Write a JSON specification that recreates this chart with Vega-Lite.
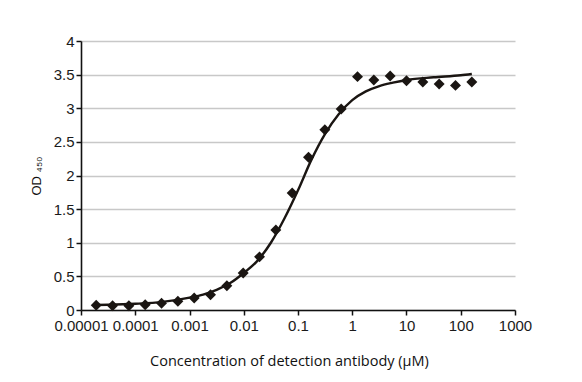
{
  "$schema": "https://vega.github.io/schema/vega-lite/v6.json",
  "autosize": "none",
  "width": 434,
  "height": 269,
  "padding": {"left": 81, "top": 41, "right": 67, "bottom": 72},
  "background": "white",
  "config": {
    "view": {"stroke": null},
    "axis": {
      "labelFont": "Liberation Sans",
      "labelFontSize": 15,
      "labelColor": "#1a1a1a",
      "labelOverlap": false,
      "labelFlush": false,
      "titleFont": "Open Sans",
      "titleFontWeight": "normal",
      "titleFontSize": 14,
      "titleColor": "#111111",
      "domainColor": "#111111",
      "domainWidth": 1.6,
      "tickColor": "#111111",
      "tickWidth": 1.5,
      "tickSize": 5,
      "labelPadding": 2
    }
  },
  "datasets": {
    "points": [
      {"conc": 0.000019073486328125, "od": 0.07},
      {"conc": 0.00003814697265625, "od": 0.063},
      {"conc": 0.0000762939453125, "od": 0.063},
      {"conc": 0.000152587890625, "od": 0.079},
      {"conc": 0.00030517578125, "od": 0.1},
      {"conc": 0.0006103515625, "od": 0.13},
      {"conc": 0.001220703125, "od": 0.178},
      {"conc": 0.00244140625, "od": 0.227},
      {"conc": 0.0048828125, "od": 0.36},
      {"conc": 0.009765625, "od": 0.55},
      {"conc": 0.01953125, "od": 0.79},
      {"conc": 0.0390625, "od": 1.19},
      {"conc": 0.078125, "od": 1.74},
      {"conc": 0.15625, "od": 2.27},
      {"conc": 0.3125, "od": 2.68},
      {"conc": 0.625, "od": 2.99},
      {"conc": 1.25, "od": 3.47},
      {"conc": 2.5, "od": 3.42},
      {"conc": 5, "od": 3.48},
      {"conc": 10, "od": 3.41},
      {"conc": 20, "od": 3.39},
      {"conc": 40, "od": 3.36},
      {"conc": 80, "od": 3.34},
      {"conc": 160, "od": 3.39}
    ],
    "fit": [
      {"conc": 0.000019073, "od": 0.075},
      {"conc": 0.0000316, "od": 0.078},
      {"conc": 0.0001, "od": 0.092},
      {"conc": 0.000316, "od": 0.12},
      {"conc": 0.001, "od": 0.185},
      {"conc": 0.00178, "od": 0.23},
      {"conc": 0.00316, "od": 0.3},
      {"conc": 0.00562, "od": 0.4},
      {"conc": 0.01, "od": 0.55},
      {"conc": 0.0178, "od": 0.73},
      {"conc": 0.0316, "od": 1.0},
      {"conc": 0.0562, "od": 1.36},
      {"conc": 0.1, "od": 1.78},
      {"conc": 0.178, "od": 2.24},
      {"conc": 0.316, "od": 2.62},
      {"conc": 0.562, "od": 2.91},
      {"conc": 1, "od": 3.12},
      {"conc": 1.78, "od": 3.25},
      {"conc": 3.16, "od": 3.33},
      {"conc": 5.62, "od": 3.38},
      {"conc": 10, "od": 3.42},
      {"conc": 31.6, "od": 3.46},
      {"conc": 100, "od": 3.49},
      {"conc": 160, "od": 3.51}
    ]
  },
  "encoding": {
    "x": {
      "field": "conc",
      "type": "quantitative",
      "scale": {"type": "log", "domain": [0.00001, 1000], "nice": false},
      "axis": {
        "title": "Concentration of detection antibody (μM)",
        "values": [0.00001, 0.0001, 0.001, 0.01, 0.1, 1, 10, 100, 1000],
        "format": ".5~f",
        "grid": false,
        "labelPadding": 3,
        "titlePadding": 21,
        "titleX": 208,
        "titleFontSize": 14.5
      }
    },
    "y": {
      "field": "od",
      "type": "quantitative",
      "scale": {"domain": [0, 4], "nice": false},
      "axis": {
        "title": "OD ₄₅₀",
        "values": [0, 0.5, 1, 1.5, 2, 2.5, 3, 3.5, 4],
        "format": ".1~f",
        "grid": true,
        "gridColor": "#c8c8c8",
        "gridWidth": 1.6,
        "titlePadding": 10,
        "titleFont": "Liberation Sans",
        "titleFontSize": 13
      }
    }
  },
  "layer": [
    {
      "data": {"name": "fit"},
      "mark": {"type": "line", "color": "#1a1512", "strokeWidth": 2.4, "interpolate": "monotone"}
    },
    {
      "data": {"name": "points"},
      "mark": {"type": "point", "shape": "diamond", "filled": true, "size": 120, "color": "#1a1512", "opacity": 1}
    }
  ]
}
